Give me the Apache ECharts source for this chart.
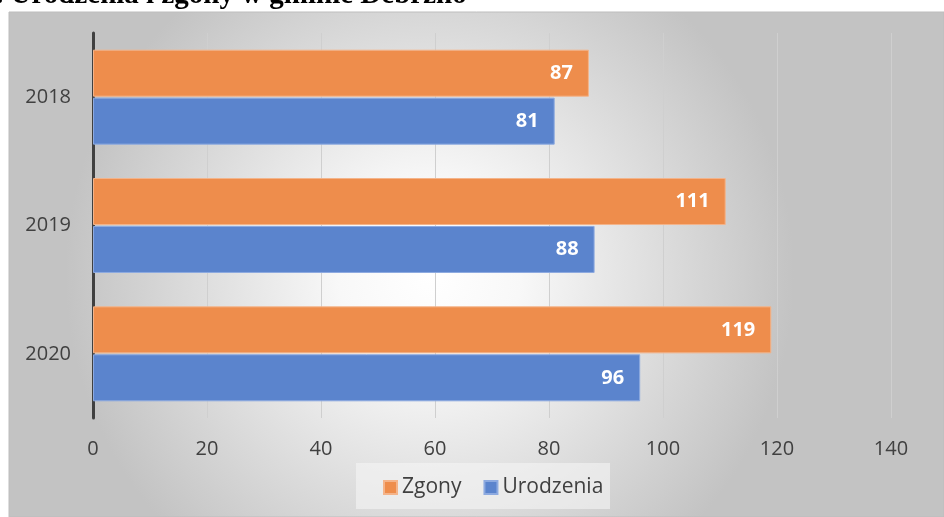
<!DOCTYPE html>
<html>
<head>
<meta charset="utf-8">
<script src="https://cdn.jsdelivr.net/npm/echarts@6/dist/echarts.min.js"></script>
<style>
  html, body { margin: 0; padding: 0; background: #fff; }
  #chart { width: 944px; height: 517px; }
</style>
</head>
<body>
<div id="chart"></div>
<script>
// dane
const years = ['2018', '2019', '2020']
const zgony = [87, 111, 119]
const urodzenia = [81, 88, 96]
const xTicks = { min: 0, max: 140, interval: 20 }

const chart = echarts.init(document.getElementById('chart'))

const labelStyle = {
  show: true,
  position: 'insideRight',
  distance: 16,
  color: '#fff',
  fontWeight: 'bold',
  fontSize: 20,
  fontFamily: 'Open Sans'
}

const option = {
  animation: false,
  graphic: [
    {
      type: 'rect',
      z: -10,
      shape: { x: 9, y: 12, width: 935, height: 505 },
      style: {
        fill: new echarts.graphic.RadialGradient(0.45, 0.52, 0.72, [
          { offset: 0, color: '#ffffff' },
          { offset: 0.25, color: '#f8f8f8' },
          { offset: 1, color: '#c3c3c3' }
        ]),
        stroke: '#bdbdbd',
        lineWidth: 1
      }
    },
    {
      type: 'rect',
      z: -5,
      shape: { x: 356, y: 463, width: 254, height: 46 },
      style: { fill: 'rgba(245,245,245,0.6)' }
    },
    {
      type: 'text',
      left: -4,
      top: -19,
      style: {
        text: '. Urodzenia i zgony w gminie Debrzno',
        fontFamily: 'Liberation Serif',
        fontWeight: 'bold',
        fontSize: 29,
        fill: '#000'
      }
    }
  ],
  grid: { left: 93, right: 53, top: 33, bottom: 99 },
  legend: {
    bottom: 14,
    left: 378,
    itemWidth: 13,
    itemHeight: 13,
    itemGap: 22,
    icon: 'rect',
    textStyle: { fontSize: 21, color: '#404040', fontFamily: 'Open Sans' },
    data: ['Zgony', 'Urodzenia']
  },
  xAxis: {
    type: 'value',
    min: xTicks.min,
    max: xTicks.max,
    interval: xTicks.interval,
    axisLine: { show: false },
    axisTick: { show: false },
    axisLabel: { fontSize: 20, color: '#404040', margin: 21, fontFamily: 'Open Sans' },
    splitLine: { lineStyle: { color: '#cfcfcf', width: 1 } }
  },
  yAxis: {
    type: 'category',
    inverse: true,
    data: years,
    axisLine: { show: true, lineStyle: { color: '#404040', width: 3 } },
    axisTick: { show: false },
    axisLabel: { fontSize: 20, color: '#404040', margin: 22, fontFamily: 'Open Sans' }
  },
  series: [
    {
      name: 'Zgony',
      type: 'bar',
      data: zgony,
      barCategoryGap: '26%',
      barGap: '2%',
      itemStyle: { color: '#EE8D4C', borderColor: '#F4B48A', borderWidth: 1 },
      label: labelStyle
    },
    {
      name: 'Urodzenia',
      type: 'bar',
      data: urodzenia,
      barCategoryGap: '26%',
      barGap: '2%',
      itemStyle: { color: '#5B84CD', borderColor: '#8DAAE0', borderWidth: 1 },
      label: labelStyle
    }
  ]
}

chart.setOption(option)
window.addEventListener('resize', () => chart.resize())
</script>
</body>
</html>
